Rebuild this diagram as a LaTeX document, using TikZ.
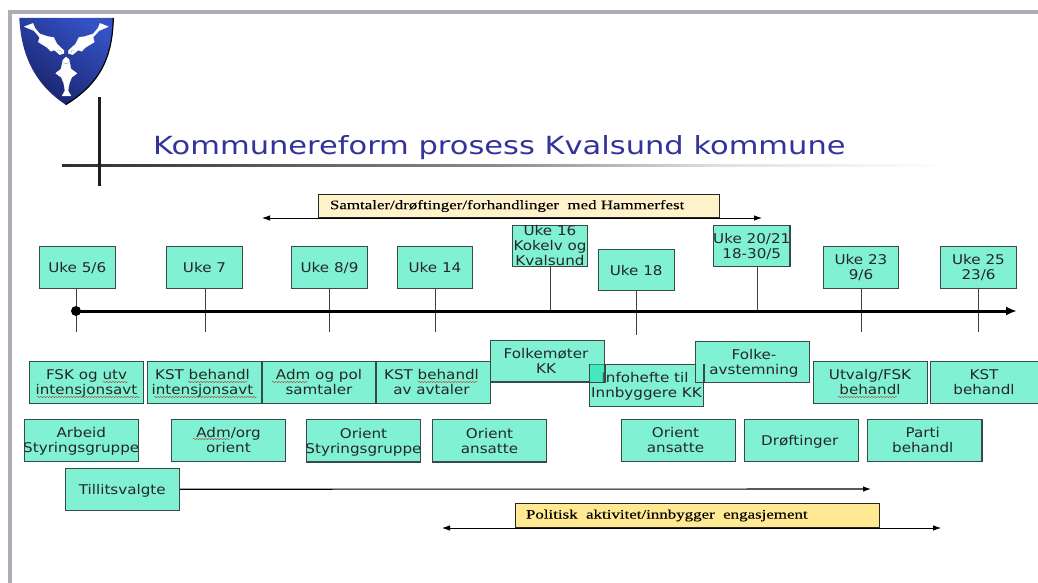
\documentclass[tikz,border=0pt]{standalone}
\usepackage{fontspec}
\setmainfont[FakeStretch=1.13]{DejaVu Sans}
\newfontfamily\titlefont[FakeStretch=1.22]{DejaVu Sans}
\newfontfamily\serifbox[FakeStretch=1.3,FakeBold=0.15]{Liberation Serif}
\usetikzlibrary{arrows.meta,decorations.pathmorphing}
\definecolor{boxfill}{HTML}{80F2D3}
\definecolor{boxline}{HTML}{3A4A48}
\definecolor{overlapfill}{HTML}{10E0A8}
\definecolor{paleyellow}{HTML}{FFF3CB}
\definecolor{strongyellow}{HTML}{FFE992}
\definecolor{frameline}{HTML}{ABAEB6}
\definecolor{titleblue}{HTML}{333399}
\definecolor{shieldlight}{HTML}{3452C4}
\definecolor{shielddark}{HTML}{18226A}
\tikzset{
  x=1pt,y=-1pt,
  boxtext/.style={font=\fontsize{13.4}{15}\selectfont,align=center,text=black!85,inner sep=0pt,yshift=-2pt,
    execute at begin node=\strut,execute at end node=\strut},
  tealbox/.style={draw=boxline,line width=1.25pt,fill=boxfill,inner sep=0pt},
  notebox/.style={draw=black!85,line width=1.2pt,inner sep=0pt,font=\serifbox\fontsize{13}{15}\selectfont,text=black},
  tick/.style={draw=black!75,line width=1pt},
  thinarrow/.style={draw=black,line width=1.1pt,-{Latex[length=8pt,width=5.5pt]}},
  bothways/.style={draw=black,line width=.8pt,{Latex[length=8pt,width=5.5pt]}-{Latex[length=8pt,width=5.5pt]}},
  squiggle/.style={draw=red!75!black,line width=.45pt,opacity=.75,decorate,decoration={snake,amplitude=.55pt,segment length=3pt}},
  fish/.style={fill=white,draw=white,line width=.3pt,line join=round},
  gill/.style={draw=black!45,line width=.35pt}
}
% \bx[text shift]{name}{x1}{y1}{x2}{y2}{text}
\newcommand{\bx}[7][]{%
  \pgfmathsetmacro{\bxw}{#5-#3}\pgfmathsetmacro{\bxh}{#6-#4}%
  \pgfmathsetmacro{\bxcx}{(#5+#3)/2}\pgfmathsetmacro{\bxcy}{(#6+#4)/2}%
  \node[tealbox,minimum width=\bxw pt-1.25pt,minimum height=\bxh pt-1.25pt,
    label={[boxtext,#1]center:{#7}}] (#2) at (\bxcx,\bxcy) {};}
\begin{document}
\begin{tikzpicture}
\useasboundingbox (0,0) rectangle (1038,583);
\fill[white] (0,0) rectangle (1038,583);
% slide frame
\fill[frameline] (8,10) rectangle (1038,13.7);
\fill[frameline] (8,10) rectangle (11.7,583);
% coat of arms
\begin{scope}[shift={(15,14)},x=.3333pt,y=-.3333pt]
  \shade[top color=shieldlight,bottom color=shielddark,shading angle=-35]
    (13,12) -- (295,12) .. controls (292,110) and (270,200) .. (152,272) .. controls (50,205) and (18,110) .. (13,12) -- cycle;
  \draw[black,line width=1.2pt] (295,12) .. controls (292,110) and (270,200) .. (152,272);
  \draw[fish] (28,38) -- (54,28) -- (60,43) -- (75,60) -- (100,68) -- (116,70) -- (126,90) -- (147,110) -- (147,118) -- (134,122) -- (118,108) -- (108,112) -- (96,100) -- (70,84) -- (74,70) -- (57,50) -- cycle;
  \draw[fish] (280,38) -- (255,28) -- (249,43) -- (234,60) -- (208,68) -- (192,70) -- (182,90) -- (160,110) -- (160,118) -- (173,122) -- (190,108) -- (200,112) -- (212,100) -- (238,84) -- (234,70) -- (252,50) -- cycle;
  \draw[fish] (153,129) -- (162,136) -- (168,165) -- (186,178) -- (170,190) -- (163,208) -- (159,230) -- (168,246) -- (141,246) -- (150,230) -- (146,207) -- (139,190) -- (122,178) -- (138,165) -- (144,138) -- cycle;
  \draw[gill] (130,108) .. controls (136,106) and (140,110) .. (140,116);
  \draw[gill] (178,108) .. controls (172,106) and (168,110) .. (168,116);
  \draw[gill] (145,146) .. controls (149,150) and (157,150) .. (161,146);
\end{scope}
% title rule and cross
\shade[left color=black!82,right color=black!45] (62,164.4) rectangle (500,166.4);
\shade[left color=black!45,right color=black!12] (500,164.4) rectangle (720,166.4);
\shade[left color=black!12,right color=white] (720,164.4) rectangle (950,166.4);
\fill[black!88] (98,97) rectangle (101,186);
\node[anchor=base west,inner sep=0pt,text=titleblue,font=\titlefont\fontsize{25}{30}\selectfont] (title) at (153,154) {Kommunereform prosess Kvalsund kommune};
% top note with arrow
\coordinate (talksL) at (262,218);
\coordinate (talksR) at (762,218);
\draw[bothways] (talksL) -- (talksR);
\node[notebox,fill=paleyellow,minimum width=401pt,minimum height=23pt] (talks) at (519,206) {\makebox[401pt][l]{\hspace{11.5pt}Samtaler/drøftinger/forhandlinger\ \ med Hammerfest}};
% timeline
\coordinate (tlstart) at (76,311);
\coordinate (tlend) at (1017,311);
\coordinate (t1) at (76,332);
\coordinate (t2) at (205,332);
\coordinate (t3) at (329,332);
\coordinate (t4) at (435,332);
\coordinate (t5) at (550,311);
\coordinate (t6) at (636,335);
\coordinate (t7) at (757,311);
\coordinate (t8) at (861,332);
\coordinate (t9) at (978,332);
% week boxes
\bx{u1}{38.5}{245.5}{116}{289}{Uke 5/6}
\bx{u2}{166}{245.5}{243}{289}{Uke 7}
\bx{u3}{291}{245.5}{368}{289}{Uke 8/9}
\bx{u4}{397}{245.5}{473}{289}{Uke 14}
\bx{u5}{512}{225}{588}{267}{Uke 16\\Kokelv og\\Kvalsund}
\bx{u6}{597.5}{249}{675}{291}{Uke 18}
\bx{u7}{713}{225}{790.5}{267}{Uke 20/21\\18-30/5}
\bx{u8}{823}{245.5}{899}{289}{Uke 23\\9/6}
\bx{u9}{940}{245.5}{1017}{289}{Uke 25\\23/6}
\draw[tick] (u1.south -| t1) -- (t1);
\draw[tick] (u2.south -| t2) -- (t2);
\draw[tick] (u3.south -| t3) -- (t3);
\draw[tick] (u4.south -| t4) -- (t4);
\draw[tick] (u5.south -| t5) -- (t5);
\draw[tick] (u6.south -| t6) -- (t6);
\draw[tick] (u7.south -| t7) -- (t7);
\draw[tick] (u8.south -| t8) -- (t8);
\draw[tick] (u9.south -| t9) -- (t9);
\draw[line width=3pt,-{Latex[length=11pt,width=9pt]}] (tlstart) -- (tlend);
\fill[black] (tlstart) circle (5pt);
% first row
\bx{a1}{29}{361}{144}{404}{FSK og utv\\intensjonsavt}
\bx[xshift=-2pt]{a2}{147}{361}{262}{404}{KST behandl\\intensjonsavt}
\bx{a3}{262}{361}{376}{404}{Adm og pol\\samtaler}
\bx[xshift=-2pt]{a4}{376}{361}{491}{404}{KST behandl\\av avtaler}
\bx[xshift=-1.5pt]{a5}{490}{339.5}{605}{382.5}{Folkemøter\\KK}
\fill[overlapfill,fill opacity=.35] (589,363.5) rectangle (605,382.5);
\bx{a6}{589}{363.5}{704}{407}{\hspace*{-3pt}Infohefte til\\Innbyggere KK}
\fill[overlapfill,fill opacity=.5] (589.6,364.1) rectangle (604.4,381.9);
\draw[boxline,line width=1.25pt] (589,382.5) -- (605,382.5) -- (605,363.5);
\bx[xshift=1.5pt]{a7}{695}{340.5}{810}{383}{Folke-\\avstemning}
\draw[boxline,line width=1.25pt] (704,363.5) -- (704,383);
\bx[xshift=-.5pt]{a8}{813}{361}{928}{404}{Utvalg/FSK\\behandl}
\bx[xshift=-4pt]{a9}{930}{361}{1046}{404}{KST\\behandl}
% second row
\bx{b1}{23.5}{418.5}{139}{462}{Arbeid\\Styringsgruppe}
\bx{b2}{171}{419}{286}{462}{Adm/org\\orient}
\bx{b3}{306}{419}{421}{462.5}{Orient\\Styringsgruppe}
\bx{b4}{432}{419}{547}{462.5}{Orient\\ansatte}
\bx[xshift=-3pt]{b5}{621}{419}{736}{462}{Orient\\ansatte}
\bx[xshift=-1.5pt]{b6}{743.5}{419}{859}{462}{Drøftinger}
\bx[xshift=-2pt]{b7}{867}{419}{982.5}{462}{Parti\\behandl}
% third row
\bx{c1}{64.5}{467.5}{180}{511}{Tillitsvalgte}
\coordinate (tvend) at (871,489);
\draw[thinarrow] (c1.east) -- (tvend);
% lower note with arrow
\coordinate (polL) at (442,528);
\coordinate (polR) at (941,528);
\draw[bothways] (polL) -- (polR);
\node[notebox,fill=strongyellow,minimum width=364pt,minimum height=24pt] (pol) at (697.5,515.5) {\makebox[364pt][l]{\hspace{10.5pt}Politisk\ \ aktivitet/innbygger\ \ engasjement}};
% spelling marks
\draw[squiggle] (103,382) -- (128,382);
\draw[squiggle] (37,397) -- (140,397);
\draw[squiggle] (188,382) -- (248,382);
\draw[squiggle] (154,397) -- (257,397);
\draw[squiggle] (272,382) -- (308,382);
\draw[squiggle] (418,382) -- (477,382);
\draw[squiggle] (193,439) -- (230,439);
\draw[squiggle] (838,397) -- (897,397);
\end{tikzpicture}
\end{document}
